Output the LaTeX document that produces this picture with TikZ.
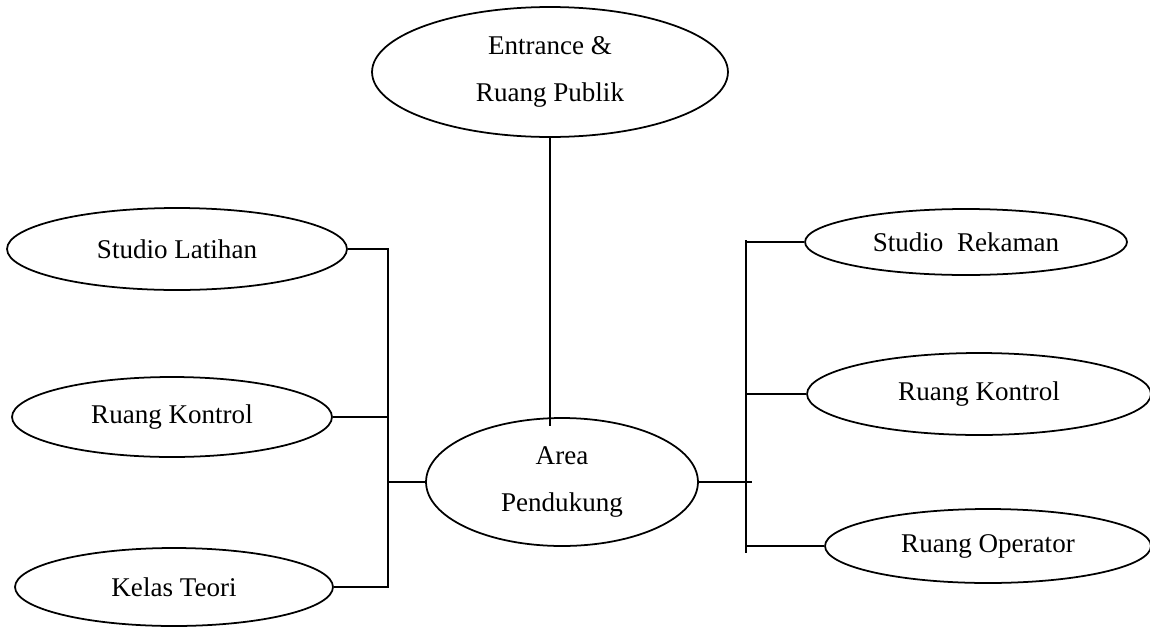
\documentclass[tikz,border=0pt]{standalone}
\usepackage{fontspec}
\setmainfont{Liberation Serif}
\usetikzlibrary{shapes.geometric}

\tikzset{
  room/.style={draw, ellipse, line width=1pt, inner sep=0pt, align=center, font=\fontsize{15.4}{26.5}\selectfont},
  link/.style={line width=0.8pt},
}

\begin{document}
\begin{tikzpicture}[x=0.02cm, y=-0.02cm]
\useasboundingbox (0,0) rectangle (1150,626);
\node[room, minimum width=7.12cm, minimum height=2.6cm] (publik) at (550,72) {Entrance \&\\Ruang Publik};
\node[room, minimum width=5.44cm, minimum height=2.56cm] (area) at (562,482) {Area\\Pendukung};
\node[room, minimum width=6.8cm, minimum height=1.64cm] (latihan) at (177,249) {Studio Latihan};
\node[room, minimum width=6.4cm, minimum height=1.6cm] (kontrolA) at (172,417) {Ruang Kontrol};
\node[room, minimum width=6.36cm, minimum height=1.56cm] (teori) at (174,587) {Kelas Teori};
\node[room, minimum width=6.44cm, minimum height=1.32cm] (rekaman) at (966,242) {Studio\ \ Rekaman};
\node[room, minimum width=6.88cm, minimum height=1.64cm] (kontrolB) at (979,394) {Ruang Kontrol};
\node[room, minimum width=6.52cm, minimum height=1.48cm] (operator) at (988,546) {Ruang Operator};
\coordinate (lbus) at (388,0);
\coordinate (rbus) at (746,0);
\coordinate (rtop) at (746,240);
\coordinate (rbot) at (746,553);
\coordinate (rend) at (752,0);
\draw[link] (publik.south) -- ([yshift=-0.18cm]publik.south |- area.north);
% left group
\draw[link] (latihan.east) -- (latihan.east -| lbus) -- (teori.east -| lbus) -- (teori.east);
\draw[link] (kontrolA.east) -- (kontrolA.east -| lbus);
\draw[link] (area.west) -- (area.west -| lbus);
% right group
\draw[link] (rtop) -- (rbot);
\draw[link] (rekaman.west) -- (rekaman.west -| rbus);
\draw[link] (kontrolB.west) -- (kontrolB.west -| rbus);
\draw[link] (operator.west) -- (operator.west -| rbus);
\draw[link] (area.east) -- (area.east -| rend);
\end{tikzpicture}
\end{document}
